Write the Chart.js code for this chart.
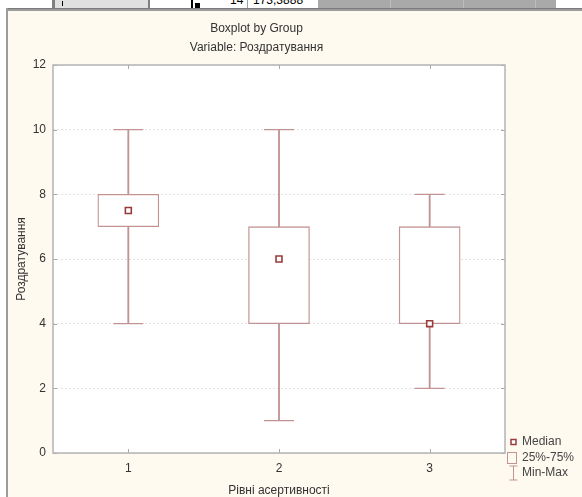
<!DOCTYPE html>
<html>
<head>
<meta charset="utf-8">
<script src="https://cdn.jsdelivr.net/npm/chart.js@4/dist/chart.umd.min.js"></script>
<style>
  html, body { margin: 0; padding: 0; width: 582px; height: 497px; overflow: hidden; background: #fff;
    font-family: 'Liberation Sans', Arial, sans-serif; }
  .abs { position: absolute; }
  #strip { position: absolute; left: 0; top: 0; width: 582px; height: 8px; overflow: hidden; }
  #strip .txt { position: absolute; top: -6px; font-size: 12px; line-height: 12px; color: #000; }
  #win { position: absolute; left: 6px; top: 8px; width: 576px; height: 489px; box-sizing: border-box;
    background: #fffaf0; border-left: 2px solid #9c9c9c; border-top: 3px solid #9c9c9c; }
  #win::before { content: ''; position: absolute; left: 0; right: 0; top: -3px; height: 1px; background: #7a7a7a; }
  #chart { position: absolute; left: 0; top: 0; }
</style>
</head>
<body>
<!-- worksheet row peeking out above the graph window -->
<div id="strip">
  <div class="abs" style="left:52px;top:0;width:3px;height:8px;background:#808080"></div>
  <div class="abs" style="left:55px;top:0;width:93px;height:8px;background:#e0e0e0"></div>
  <div class="abs" style="left:62px;top:1px;width:1px;height:5px;background:#000"></div>
  <div class="abs" style="left:148px;top:0;width:2px;height:8px;background:#808080"></div>
  <div class="abs" style="left:150px;top:0;width:168px;height:8px;background:#fff"></div>
  <div class="abs" style="left:191px;top:0;width:2px;height:8px;background:#000"></div>
  <div class="abs" style="left:195px;top:3px;width:5px;height:5px;background:#000"></div>
  <div class="txt" style="left:230px">14</div>
  <div class="abs" style="left:247px;top:0;width:1px;height:8px;background:#a0a0a0"></div>
  <div class="txt" style="left:253px">173,3888</div>
  <div class="abs" style="left:318px;top:0;width:238px;height:8px;background:#a9a9a9"></div>
  <div class="abs" style="left:390px;top:0;width:1px;height:8px;background:#bcbcbc"></div>
  <div class="abs" style="left:463px;top:0;width:1px;height:8px;background:#bcbcbc"></div>
  <div class="abs" style="left:535px;top:0;width:1px;height:8px;background:#bcbcbc"></div>
</div>

<div id="win">
  <canvas id="chart" width="574" height="486"></canvas>
</div>

<script>
// Boxplot summary per assertiveness level
const groups  = ['1', '2', '3'];
const mins    = [4, 1, 2];
const q1s     = [7, 4, 4];
const medians = [7.5, 6, 4];
const q3s     = [8, 7, 7];
const maxs    = [10, 10, 8];
const yTicks  = [0, 2, 4, 6, 8, 10, 12];

const FONT = "'Liberation Sans', Arial, sans-serif";
const TEXT = '#333333';
const BOX = '#c29393';
const MED = '#9a3a3a';

// white plotting area
const plotBg = {
  id: 'plotBg',
  beforeDraw(chart) {
    const { ctx, chartArea: a } = chart;
    ctx.save();
    ctx.fillStyle = '#ffffff';
    ctx.fillRect(a.left, a.top, a.right - a.left, a.bottom - a.top);
    ctx.restore();
  }
};

// frame around the plot with short inward ticks on every side
const frameTicks = {
  id: 'frameTicks',
  afterDraw(chart) {
    const { ctx, chartArea: a, scales } = chart;
    ctx.save();
    ctx.strokeStyle = '#a8a8a8';
    ctx.lineWidth = 1;
    ctx.beginPath();
    scales.x.ticks.forEach((t, i) => {
      const px = Math.round(scales.x.getPixelForTick(i)) + 0.5;
      ctx.moveTo(px, a.top); ctx.lineTo(px, a.top + 4);
      ctx.moveTo(px, a.bottom); ctx.lineTo(px, a.bottom - 4);
    });
    scales.y.ticks.forEach(t => {
      const py = Math.round(scales.y.getPixelForValue(t.value)) + 0.5;
      ctx.moveTo(a.left, py); ctx.lineTo(a.left + 4, py);
      ctx.moveTo(a.right, py); ctx.lineTo(a.right - 4, py);
    });
    ctx.stroke();
    ctx.strokeStyle = '#b4b4b4';
    ctx.lineWidth = 1.5;
    ctx.strokeRect(a.left, a.top, a.right - a.left, a.bottom - a.top);
    ctx.restore();
  }
};

// legend in the lower right corner
const boxLegend = {
  id: 'boxLegend',
  afterDraw(chart) {
    const { ctx, chartArea: a } = chart;
    const cx = a.right + 8.5;
    const tx = a.right + 17;
    const rows = [a.bottom - 11, a.bottom + 5, a.bottom + 20];
    ctx.save();
    // median marker
    ctx.strokeStyle = MED; ctx.lineWidth = 1.5; ctx.fillStyle = '#fff';
    ctx.fillRect(cx - 2.5, rows[0] - 2.5, 5, 5);
    ctx.strokeRect(cx - 2.5, rows[0] - 2.5, 5, 5);
    // box
    ctx.strokeStyle = BOX; ctx.lineWidth = 1;
    ctx.strokeRect(a.right + 2.5, rows[1] - 5.5, 9, 11);
    // whisker
    ctx.beginPath();
    ctx.moveTo(cx, rows[2] - 7); ctx.lineTo(cx, rows[2] + 7);
    ctx.moveTo(cx - 4, rows[2] - 7); ctx.lineTo(cx + 4, rows[2] - 7);
    ctx.moveTo(cx - 4, rows[2] + 7); ctx.lineTo(cx + 4, rows[2] + 7);
    ctx.stroke();
    ctx.fillStyle = '#444';
    ctx.font = '12px ' + FONT;
    ctx.textBaseline = 'middle';
    ctx.textAlign = 'left';
    ['Median', '25%-75%', 'Min-Max'].forEach((s, i) => ctx.fillText(s, tx, rows[i]));
    ctx.restore();
  }
};

new Chart(document.getElementById('chart'), {
  type: 'bar',
  data: {
    labels: groups,
    datasets: [
      {
        type: 'line', label: 'Median', data: medians, order: 0,
        showLine: false, pointStyle: 'rect', pointRadius: 4.2,
        pointBackgroundColor: '#ffffff', pointBorderColor: MED, pointBorderWidth: 1.6
      },
      {
        type: 'line', label: 'Min', data: mins, order: 1,
        showLine: false, pointStyle: 'line', pointRadius: 15,
        pointBorderColor: BOX, pointBorderWidth: 1.3
      },
      {
        type: 'line', label: 'Max', data: maxs, order: 1,
        showLine: false, pointStyle: 'line', pointRadius: 15,
        pointBorderColor: BOX, pointBorderWidth: 1.3
      },
      {
        label: '25%-75%', data: q1s.map((q, i) => [q, q3s[i]]), order: 2,
        grouped: false, barThickness: 61,
        backgroundColor: '#ffffff', borderColor: BOX, borderWidth: 1.3, borderSkipped: false
      },
      {
        label: 'Min-Max', data: mins.map((m, i) => [m, maxs[i]]), order: 3,
        grouped: false, barThickness: 1.2,
        backgroundColor: BOX, borderWidth: 0
      }
    ]
  },
  options: {
    responsive: false,
    animation: false,
    devicePixelRatio: 1,
    layout: { padding: { left: 0, right: 77, top: 0, bottom: 0 } },
    plugins: {
      legend: { display: false },
      tooltip: { enabled: false },
      title: {
        display: true, text: 'Boxplot by Group', color: TEXT,
        font: { family: FONT, size: 12, weight: 'normal', lineHeight: 1.2 },
        padding: { top: 10, bottom: 5 }
      },
      subtitle: {
        display: true, text: 'Variable: Роздратування', color: TEXT,
        font: { family: FONT, size: 12, weight: 'normal', lineHeight: 1.2 },
        padding: { top: 0, bottom: 10.2 }
      }
    },
    scales: {
      x: {
        type: 'category',
        offset: true,
        grid: { display: false, drawTicks: false },
        border: { display: false },
        ticks: { color: TEXT, font: { family: FONT, size: 12 }, padding: 8 },
        title: {
          display: true, text: 'Рівні асертивності', color: TEXT,
          font: { family: FONT, size: 12, lineHeight: 1.0 },
          padding: { top: 0, bottom: 0 }
        },
        afterFit(scale) { scale.height = 44; }
      },
      y: {
        min: 0, max: 12,
        grid: { color: '#e2e2e2', lineWidth: 1, drawTicks: false },
        border: { display: false, dash: [2, 2] },
        ticks: { color: TEXT, font: { family: FONT, size: 12 }, padding: 7 },
        afterBuildTicks(scale) { scale.ticks = yTicks.map(v => ({ value: v })); },
        title: {
          display: true, text: 'Роздратування', color: TEXT,
          font: { family: FONT, size: 12, lineHeight: 1.2 },
          padding: { top: 6, bottom: 0 }
        },
        afterFit(scale) { scale.width = 45; }
      }
    }
  },
  plugins: [plotBg, frameTicks, boxLegend]
});
</script>
</body>
</html>
